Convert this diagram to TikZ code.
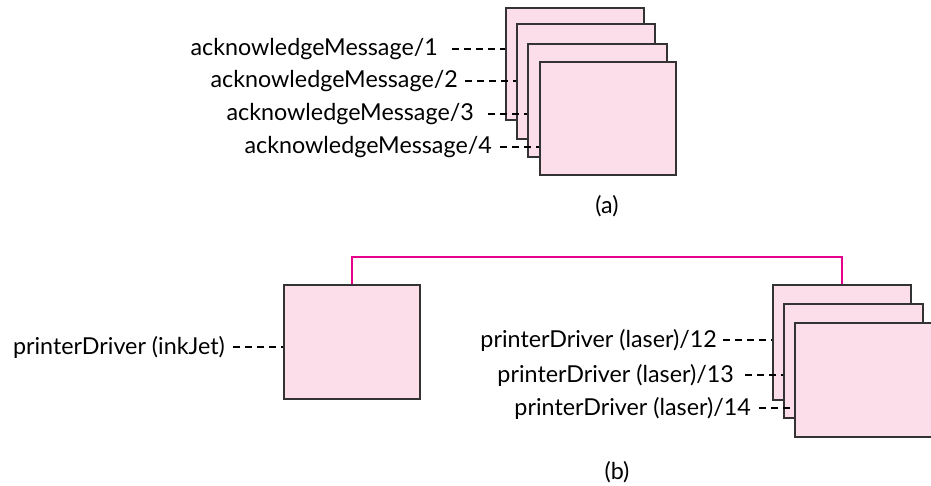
\documentclass[tikz,border=0pt]{standalone}
\usepackage{fontspec}
\setmainfont{Lato}
\definecolor{boxfill}{HTML}{FBDEE9}
\definecolor{boxline}{HTML}{333333}
\definecolor{magline}{HTML}{E6008A}
\begin{document}
\begin{tikzpicture}[x=1pt,y=-1pt,
  pbox/.style={draw=boxline,fill=boxfill,line width=1.7pt,anchor=north west,inner sep=0pt},
  lbl/.style={anchor=east,inner xsep=0pt,inner ysep=0pt,font=\fontsize{23.3}{26}\selectfont,text=black},
  dline/.style={draw=black,line width=1.3pt,dash pattern=on 7pt off 5pt},
  captxt/.style={font=\fontsize{23.3}{26}\selectfont,text=black}]
\useasboundingbox (0,0) rectangle (931,485);
% (a) stack
\node[pbox,minimum width=138pt,minimum height=112pt] (a1) at (505,7) {};
\node[pbox,minimum width=138pt,minimum height=115pt] (a2) at (516,23) {};
\node[pbox,minimum width=139pt,minimum height=113pt] (a3) at (527,43) {};
\node[pbox,minimum width=136pt,minimum height=113pt] (a4) at (539,61) {};
\node[lbl] (l1) at (438,49) {acknowledgeMessage/1};
\node[lbl] (l2) at (458,81) {acknowledgeMessage/2};
\node[lbl] (l3) at (474,114) {acknowledgeMessage/3};
\node[lbl] (l4) at (492,147) {acknowledgeMessage/4};
\draw[dline] ([xshift=14pt]l1.east) -- (a1.west |- l1.east);
\draw[dline] ([xshift=7pt]l2.east) -- (a2.west |- l2.east);
\draw[dline] ([xshift=14pt]l3.east) -- (a3.west |- l3.east);
\draw[dline] ([xshift=8pt]l4.east) -- (a4.west |- l4.east);
\node[captxt] (capa) at (607,206) {(a)};
% (b)
\node[pbox,minimum width=136pt,minimum height=114pt] (ink) at (283,284) {};
\node[pbox,minimum width=138pt,minimum height=115pt] (b1) at (772,284) {};
\node[pbox,minimum width=139pt,minimum height=114pt] (b2) at (783,303) {};
\node[pbox,minimum width=137pt,minimum height=114pt] (b3) at (794,322) {};
\node[lbl] (li) at (225,347) {printerDriver (inkJet)};
\node[lbl] (l12) at (717,340) {printerDriver (laser)/12};
\node[lbl] (l13) at (734,375) {printerDriver (laser)/13};
\node[lbl] (l14) at (751,408) {printerDriver (laser)/14};
\draw[dline] ([xshift=8pt]li.east) -- (ink.west |- li.east);
\draw[dline] ([xshift=6pt]l12.east) -- (b1.west |- l12.east);
\draw[dline] ([xshift=11pt]l13.east) -- (b2.west |- l13.east);
\draw[dline] ([xshift=8pt]l14.east) -- (b3.west |- l14.east);
\draw[magline,line width=2pt] (ink.north) -- ++(0,-27) -| (b1.north);
\node[captxt] (capb) at (617,472) {(b)};
\end{tikzpicture}
\end{document}
